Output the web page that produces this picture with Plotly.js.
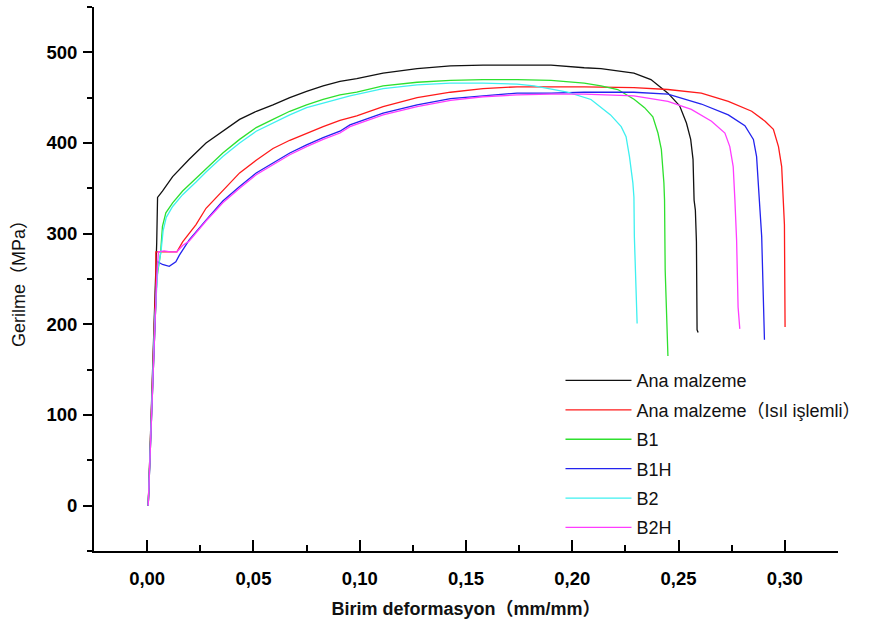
<!DOCTYPE html>
<html>
<head>
<meta charset="utf-8">
<script src="https://cdn.plot.ly/plotly-3.0.1.min.js"></script>
<style>html,body{margin:0;padding:0;background:#fff;}#chart{width:890px;height:619px;}</style>
</head>
<body>
<div id="chart"></div>
<script>
// Series names
const seriesNames = ["Ana malzeme", "Ana malzeme（Isıl işlemli）", "B1", "B1H", "B2", "B2H"];

// Ana malzeme (black)
const anaX = [0.0005, 0.0020, 0.0035, 0.0045, 0.0049, 0.0072, 0.0120, 0.0198, 0.0277, 0.0356, 0.0435, 0.0514, 0.0592, 0.0671, 0.0750, 0.0828, 0.0907, 0.0986, 0.111, 0.127, 0.1427, 0.158, 0.174, 0.190, 0.2056, 0.2135, 0.229, 0.237, 0.245, 0.2505, 0.2537, 0.2557, 0.2568, 0.2573, 0.2579, 0.2584, 0.2587, 0.2592];
const anaY = [0, 100, 200, 290, 340, 347, 363, 382, 400, 413, 426, 435, 442, 450, 457, 463, 468, 471, 477, 482, 485, 486, 486, 486, 483, 482, 477, 470, 455, 441, 422, 404, 382, 337, 326, 291, 194, 191];

// Ana malzeme (Isıl işlemli) (red)
const anaIsilX = [0.0005, 0.0020, 0.0035, 0.0041, 0.0041, 0.0060, 0.0140, 0.0167, 0.0230, 0.0277, 0.0356, 0.0435, 0.0513, 0.0592, 0.0671, 0.0750, 0.0828, 0.0907, 0.0986, 0.111, 0.127, 0.1427, 0.158, 0.174, 0.190, 0.2056, 0.229, 0.245, 0.2607, 0.2734, 0.2844, 0.2907, 0.2946, 0.2970, 0.2985, 0.2993, 0.2998, 0.3001];
const anaIsilY = [0, 100, 200, 250, 280, 280, 280, 291, 310, 328, 348, 367, 381, 394, 403, 411, 418, 425, 430, 440, 450, 456, 460, 462, 462, 462, 461, 459, 455, 446, 435, 424, 415, 396, 374, 337, 310, 197];

// B1 (green)
const b1X = [0.0005, 0.0020, 0.0035, 0.0045, 0.0063, 0.0068, 0.0072, 0.0088, 0.0120, 0.0167, 0.0230, 0.0277, 0.0356, 0.0435, 0.0513, 0.0592, 0.0671, 0.0750, 0.0828, 0.0907, 0.0986, 0.111, 0.127, 0.1427, 0.158, 0.174, 0.190, 0.2056, 0.2135, 0.2214, 0.2292, 0.2340, 0.2379, 0.2403, 0.2419, 0.2431, 0.2434, 0.2437, 0.2443, 0.2450];
const b1Y = [0, 100, 200, 250, 278, 300, 308, 323, 334, 347, 361, 372, 389, 404, 417, 426, 435, 442, 448, 453, 456, 463, 467, 469, 470, 470, 469, 466, 463, 459, 448, 439, 429, 411, 393, 356, 337, 260, 215, 165];

// B1H (blue)
const b1hX = [0.0005, 0.0020, 0.0035, 0.0045, 0.0050, 0.0072, 0.0104, 0.0135, 0.0151, 0.0159, 0.0198, 0.0277, 0.0356, 0.0435, 0.0513, 0.0592, 0.0671, 0.0750, 0.0828, 0.0907, 0.0954, 0.111, 0.127, 0.1427, 0.158, 0.174, 0.190, 0.2056, 0.229, 0.245, 0.2607, 0.2734, 0.2812, 0.2852, 0.2867, 0.2878, 0.2883, 0.2891, 0.2899, 0.2904];
const b1hY = [0, 100, 200, 250, 269, 266, 264, 269, 276, 279, 293, 315, 336, 352, 367, 378, 389, 398, 406, 413, 420, 433, 442, 449, 452, 455, 455, 456, 456, 454, 443, 431, 419, 404, 385, 337, 326, 297, 219, 183];

// B2 (cyan)
const b2X = [0.0005, 0.0020, 0.0035, 0.0050, 0.0065, 0.0075, 0.0090, 0.0120, 0.0167, 0.0230, 0.0277, 0.0356, 0.0435, 0.0513, 0.0592, 0.0671, 0.0750, 0.0828, 0.0907, 0.0954, 0.111, 0.127, 0.1427, 0.158, 0.174, 0.182, 0.1977, 0.2088, 0.2180, 0.2230, 0.2253, 0.2269, 0.2285, 0.2290, 0.2292, 0.2298, 0.2305];
const b2Y = [0, 100, 200, 260, 280, 303, 318, 330, 343, 357, 368, 385, 400, 413, 422, 431, 439, 444, 449, 452, 460, 464, 466, 466, 465, 463, 456, 448, 431, 418, 407, 385, 356, 340, 297, 250, 201];

// B2H (magenta)
const b2hX = [0.0005, 0.0020, 0.0035, 0.0045, 0.0053, 0.0080, 0.0110, 0.0140, 0.0167, 0.0198, 0.0277, 0.0356, 0.0435, 0.0513, 0.0592, 0.0671, 0.0750, 0.0828, 0.0907, 0.0954, 0.111, 0.127, 0.1427, 0.158, 0.174, 0.190, 0.2056, 0.2135, 0.229, 0.245, 0.256, 0.2655, 0.2718, 0.2741, 0.2757, 0.2765, 0.2773, 0.2780, 0.2788];
const b2hY = [0, 100, 200, 250, 280, 281, 280, 280, 287, 292, 314, 334, 350, 365, 376, 387, 396, 404, 411, 418, 431, 440, 447, 451, 453, 454, 454, 453.5, 452, 446, 437, 424, 411, 396, 374, 337, 293, 219, 195];

// Axis tick values / labels
const xTickVals = [0, 0.05, 0.10, 0.15, 0.20, 0.25, 0.30];
const xTickText = ["0,00", "0,05", "0,10", "0,15", "0,20", "0,25", "0,30"];
const yTickVals = [0, 100, 200, 300, 400, 500];

const colors = ["#111111", "#ff1a1a", "#2ee02e", "#2323ee", "#3ef0f0", "#ff3cff"];
const xs = [anaX, anaIsilX, b1X, b1hX, b2X, b2hX];
const ys = [anaY, anaIsilY, b1Y, b1hY, b2Y, b2hY];

const traces = seriesNames.map((n, i) => ({
  type: "scatter", mode: "lines", name: n,
  x: xs[i], y: ys[i],
  line: {color: colors[i], width: 1.3},
  legendgroup: "g" + i
}));

const axisFont = {family: "Liberation Sans, Arial, sans-serif", size: 18.5, color: "#000", weight: "bold"};

const layout = {
  width: 890, height: 619,
  margin: {l: 94, r: 52, t: 7, b: 68},
  paper_bgcolor: "#fff", plot_bgcolor: "#fff",
  font: {family: "Liberation Sans, Arial, 'Noto Sans CJK SC', sans-serif", color: "#111"},
  showlegend: true,
  legend: {
    x: 0.627, y: 0.347, xanchor: "left", yanchor: "top",
    bgcolor: "rgba(0,0,0,0)", borderwidth: 0,
    font: {size: 18, color: "#111"},
    tracegroupgap: 3, itemwidth: 66
  },
  xaxis: {
    range: [-0.025, 0.325], showgrid: false, zeroline: false,
    showline: true, linecolor: "#000", linewidth: 2,
    ticks: "inside", ticklen: 11, tickwidth: 2, tickcolor: "#000",
    tickvals: xTickVals, ticktext: xTickText, tickfont: axisFont,
    ticklabelstandoff: 10,
    minor: {dtick: 0.025, tick0: 0, ticks: "inside", ticklen: 6, tickwidth: 2, tickcolor: "#000"},
    title: {text: "Birim deformasyon（mm/mm）", font: {size: 18, color: "#111", weight: "bold"}, standoff: 14}
  },
  yaxis: {
    range: [-50, 550], showgrid: false, zeroline: false,
    showline: true, linecolor: "#000", linewidth: 2,
    ticks: "outside", ticklen: 9, tickwidth: 2, tickcolor: "#000",
    tickvals: yTickVals, tickfont: axisFont, ticklabelstandoff: 2,
    minor: {dtick: 50, tick0: 0, ticks: "outside", ticklen: 5, tickwidth: 2, tickcolor: "#000"},
    title: {text: "Gerilme（MPa）", font: {size: 18, color: "#111"}, standoff: 16}
  }
};

Plotly.newPlot("chart", traces, layout, {displayModeBar: false, staticPlot: true});
</script>
</body>
</html>
